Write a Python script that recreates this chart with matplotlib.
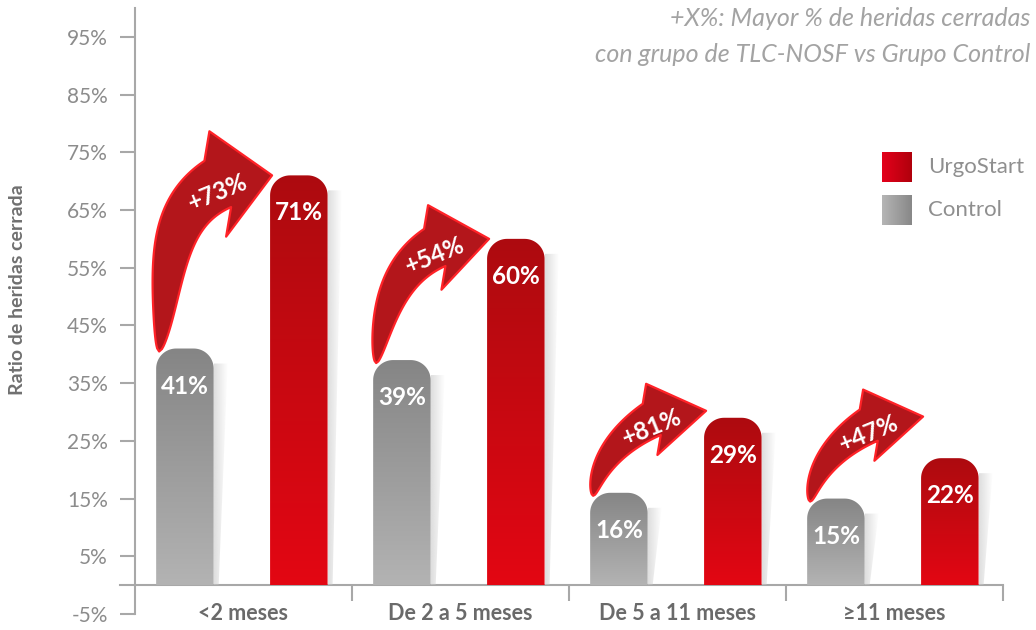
import numpy as np
import matplotlib
matplotlib.use("Agg")
import matplotlib.pyplot as plt
from matplotlib.path import Path
from matplotlib.patches import PathPatch, Polygon
from matplotlib.colors import LinearSegmentedColormap, to_rgb

plt.rcParams["font.family"] = ["Lato", "DejaVu Sans"]

categories = ["<2 meses", "De 2 a 5 meses", "De 5 a 11 meses", "≥11 meses"]
control = [41, 39, 16, 15]
urgostart = [71, 60, 29, 22]
increase = ["+73%", "+54%", "+81%", "+47%"]
yticks = [-5, 5, 15, 25, 35, 45, 55, 65, 75, 85, 95]
title_lines = ["+X%: Mayor % de heridas cerradas",
               "con grupo de TLC-NOSF vs Grupo Control"]
legend_labels = ["UrgoStart", "Control"]

W, H = 1036, 630
AXIS = "#a8a8a8"
fig = plt.figure(figsize=(W / 100, H / 100), dpi=100)
ax = fig.add_axes([135 / W, 16 / H, 868 / W, 606 / H])
ax.set_xlim(-0.5, 3.5)
ax.set_ylim(-5, 100)
ax.set_autoscale_on(False)
inv = ax.transData.inverted()

for s in ["top", "right", "bottom"]:
    ax.spines[s].set_visible(False)
ax.spines["left"].set_color(AXIS)
ax.spines["left"].set_linewidth(1.5)
ax.set_xticks([])
ax.set_yticks(yticks)
ax.set_yticklabels([f"{t}%" for t in yticks])
ax.tick_params(axis="y", length=11, width=1.5, color=AXIS, pad=8.5,
               labelsize=15, labelcolor="#8c8c8c")

# baseline and category separators
x_left = inv.transform(ax.transData.transform((-0.5, 0)) - (15, 0))[0]
ax.plot([x_left, 3.5], [0, 0], color=AXIS, lw=1.5, clip_on=False, zorder=1)
ax.vlines(np.arange(4) + 0.5, -2.8, 0, color=AXIS, lw=1.5, clip_on=False)
for i, c in enumerate(categories):
    ax.text(i, -5, c, ha="center", va="center", fontsize=15.5,
            fontweight="bold", color="#6a6a6a")


def vgrad(c_top, c_bot):
    return LinearSegmentedColormap.from_list("", [c_top, c_bot])


def rounded_bar(bar, c_top, c_bot, r=20):
    x0, y0 = bar.get_x(), bar.get_y()
    w, h = bar.get_width(), bar.get_height()
    (px0, py0), (px1, py1) = ax.transData.transform([(x0, y0), (x0 + w, y0 + h)])
    a = np.linspace(0, np.pi / 2, 20)
    right = np.column_stack([px1 - r + r * np.cos(a), py1 - r + r * np.sin(a)])
    left = np.column_stack([px0 + r - r * np.sin(a), py1 - r + r * np.cos(a)])
    pts = np.vstack([[(px0, py0), (px1, py0)], right, left, [(px0, py0)]])
    clip = PathPatch(Path(inv.transform(pts)), fc="none", ec="none")
    ax.add_patch(clip)
    im = ax.imshow(np.linspace(0, 1, 256).reshape(-1, 1), cmap=vgrad(c_top, c_bot),
                   extent=(x0, x0 + w, y0, y0 + h), aspect="auto",
                   origin="upper", zorder=2)
    im.set_clip_path(clip)
    # soft shadow on the right side
    sh = np.array([(px1, py0), (px1 + 5, py0), (px1 + 14, py1 - 15), (px1, py1 - 15)])
    sclip = PathPatch(Path(inv.transform(sh)), fc="none", ec="none")
    ax.add_patch(sclip)
    rgba = np.zeros((1, 64, 4))
    rgba[..., :3] = to_rgb("#c8c8c8")
    rgba[..., 3] = np.linspace(0.6, 0, 64)
    (sx0, _), (sx1, _) = inv.transform([(px1, 0), (px1 + 14, 0)])
    sim = ax.imshow(rgba, extent=(sx0, sx1, y0, y0 + h), aspect="auto", zorder=1.5)
    sim.set_clip_path(sclip)
    return px0, px1, py1


def curved_arrow(p0, tip, label):
    p0, tip = np.asarray(p0, float), np.asarray(tip, float)
    span = 0.51 * np.hypot(*(tip - p0))
    hw = span / 4
    dh = np.array([np.cos(np.radians(9)), np.sin(np.radians(9))])
    B = tip - 55 * dh
    d0 = np.array([np.sin(np.radians(8)), np.cos(np.radians(8))])
    d2 = np.array([np.cos(np.radians(30)), np.sin(np.radians(30))])
    c1 = p0 + 0.45 * (B[1] - p0[1]) * d0
    c2 = B - 0.35 * np.hypot(*(B - p0)) * d2
    t = np.linspace(0, 1, 80)[:, None]
    C = (1 - t) ** 3 * p0 + 3 * (1 - t) ** 2 * t * c1 + 3 * (1 - t) * t ** 2 * c2 + t ** 3 * B
    D = 3 * (1 - t) ** 2 * (c1 - p0) + 6 * (1 - t) * t * (c2 - c1) + 3 * t ** 2 * (B - c2)
    D /= np.linalg.norm(D, axis=1, keepdims=True)
    N = np.column_stack([-D[:, 1], D[:, 0]])
    hh = hw * t ** 0.55
    nh = np.array([-dh[1], dh[0]])
    pts = np.vstack([C + hh * N, [B + span / 2 * nh, tip, B - span / 2 * nh], (C - hh * N)[::-1]])
    ax.add_patch(Polygon(inv.transform(pts), closed=True, fc="#b3161b", ec="#ff2227",
                         lw=1.6, joinstyle="round", zorder=3))
    n2 = np.array([-d2[1], d2[0]])
    tx, ty = inv.transform(B - 4 * d2 - 7 * n2)
    ax.text(tx, ty, label, rotation=22, rotation_mode="anchor", ha="center", va="center",
            color="white", fontsize=17.5, fontweight="bold", zorder=4)


x = np.arange(len(categories))
bw = 0.265
gbars = ax.bar(x - 0.27, control, bw, color="none", zorder=2)
rbars = ax.bar(x + 0.255, urgostart, bw, color="none", zorder=2)

for gb, rb, gv, rv, lab in zip(gbars, rbars, control, urgostart, increase):
    g0, g1, gtop = rounded_bar(gb, "#858585", "#b3b3b3")
    r0, r1, rtop = rounded_bar(rb, "#ad0b0f", "#e30613")
    for b, v in ((gb, gv), (rb, rv)):
        ax.annotate(f"{v}%", (b.get_x() + b.get_width() / 2, v), xytext=(0, -27),
                    textcoords="offset points", ha="center", va="center",
                    color="white", fontsize=17.5, fontweight="bold", zorder=4)
    tail = (g0 + 3, gtop - 3)
    tip = (r0 + 2, max(rtop, tail[1] + 85))
    curved_arrow(tail, tip, lab)

# legend squares with horizontal gradient
for (top, cl, cr), lab in zip([(152, "#e4001b", "#b0000c"), (195, "#b5b5b5", "#888888")],
                              legend_labels):
    (lx0, ly0), (lx1, ly1) = inv.transform([(882, H - top - 30), (912, H - top)])
    ax.imshow(np.linspace(0, 1, 64).reshape(1, -1), cmap=vgrad(cl, cr),
              extent=(lx0, lx1, ly0, ly1), aspect="auto", clip_on=False, zorder=3)
    fig.text(928 / W, 1 - (top + 15) / H, lab, ha="left", va="center",
             fontsize=16, color="#8f8f8f")

for i, line in enumerate(title_lines):
    fig.text(1030 / W, 1 - (18 + 37 * i) / H, line, ha="right", va="center",
             fontsize=18, style="italic", color="#a3a3a3")

fig.text(18 / W, 1 - 290 / H, "Ratio de heridas cerrada", rotation=90,
         ha="center", va="center", fontsize=14, fontweight="bold", color="#707070")

fig.savefig("out.png", dpi=100)
